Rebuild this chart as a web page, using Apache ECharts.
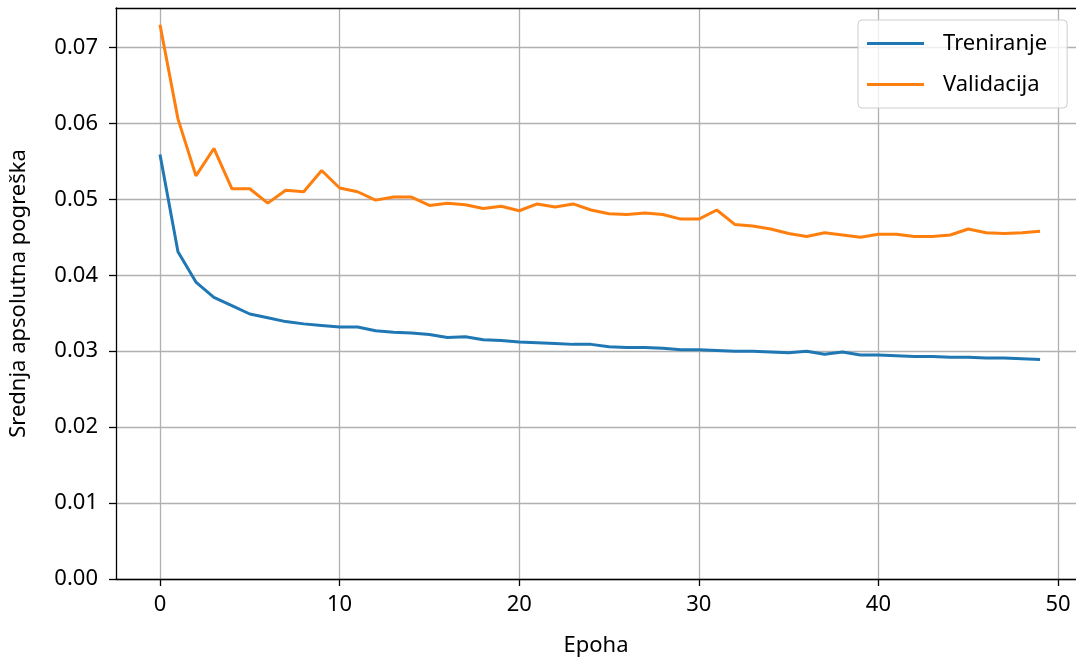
<!DOCTYPE html>
<html><head><meta charset="utf-8">
<script src="https://cdn.jsdelivr.net/npm/echarts@6/dist/echarts.min.js"></script>
<style>html,body{margin:0;padding:0;background:#fff}#c{width:1076px;height:662px}</style>
</head><body><div id="c"></div>
<script>
const epochs = Array.from({length: 50}, (_, i) => i);
const training = [0.0559,0.0431,0.0391,0.0371,0.0360,0.0349,0.0344,0.0339,0.0336,0.0334,
  0.0332,0.0332,0.0327,0.0325,0.0324,0.0322,0.0318,0.0319,0.0315,0.0314,
  0.0312,0.0311,0.0310,0.0309,0.0309,0.0306,0.0305,0.0305,0.0304,0.0302,
  0.0302,0.0301,0.0300,0.0300,0.0299,0.0298,0.0300,0.0296,0.0299,0.0295,
  0.0295,0.0294,0.0293,0.0293,0.0292,0.0292,0.0291,0.0291,0.0290,0.0289];
const validation = [0.0730,0.0606,0.0531,0.0567,0.0514,0.0514,0.0495,0.0512,0.0510,0.0538,
  0.0515,0.0510,0.0499,0.0503,0.0503,0.0492,0.0495,0.0493,0.0488,0.0491,
  0.0485,0.0494,0.0490,0.0494,0.0486,0.0481,0.0480,0.0482,0.0480,0.0474,
  0.0474,0.0486,0.0467,0.0465,0.0461,0.0455,0.0451,0.0456,0.0453,0.0450,
  0.0454,0.0454,0.0451,0.0451,0.0453,0.0461,0.0456,0.0455,0.0456,0.0458];
const xTicks = [0, 10, 20, 30, 40, 50];
const yTicks = [0, 0.01, 0.02, 0.03, 0.04, 0.05, 0.06, 0.07];
const seriesNames = ['Treniranje', 'Validacija'];
const colors = ['#1f77b4', '#ff7f0e'];
const FONT = 'Noto Sans';

const chart = echarts.init(document.getElementById('c'), null, {renderer: 'canvas'});
const X_MIN = -2.45, X_MAX = 51.0;
chart.setOption({
  animation: false,
  backgroundColor: '#fff',
  textStyle: {fontFamily: FONT},
  grid: {left: 116, right: 0, top: 8, bottom: 82, show: false},
  legend: {
    data: seriesNames,
    orient: 'vertical',
    left: 858, top: 20,
    padding: [10, 20, 10, 9],
    itemWidth: 57, itemHeight: 3,
    itemGap: 14,
    icon: 'rect',
    backgroundColor: 'rgba(255,255,255,0.8)',
    borderColor: '#cccccc', borderWidth: 1, borderRadius: 4,
    textStyle: {fontFamily: FONT, fontSize: 22, color: '#000', padding: [0, 0, 0, 14], lineHeight: 27}
  },
  xAxis: [{
    type: 'value', min: X_MIN, max: X_MAX,
    name: 'Epoha', nameLocation: 'middle', nameGap: 56,
    nameTextStyle: {fontFamily: FONT, fontSize: 22, color: '#000'},
    axisLine: {show: true, onZero: false, lineStyle: {color: '#000', width: 1.3}},
    axisTick: {show: true, length: 7, customValues: xTicks, lineStyle: {color: '#000', width: 1.3}},
    axisLabel: {customValues: xTicks, fontFamily: FONT, fontSize: 22, color: '#000', margin: 15},
    splitLine: {show: true, lineStyle: {color: '#b0b0b0', width: 1.3}}
  }, {
    type: 'value', min: X_MIN, max: X_MAX, position: 'top',
    axisLine: {show: true, onZero: false, lineStyle: {color: '#000', width: 1.3}},
    axisTick: {show: false}, axisLabel: {show: false}, splitLine: {show: false}
  }],
  yAxis: {
    type: 'value', min: 0, max: 0.0752,
    name: 'Srednja apsolutna pogreška', nameLocation: 'middle', nameGap: 86,
    nameTextStyle: {fontFamily: FONT, fontSize: 22, color: '#000'},
    axisLine: {show: true, onZero: false, lineStyle: {color: '#000', width: 1.3}},
    axisTick: {show: true, length: 7, customValues: yTicks, lineStyle: {color: '#000', width: 1.3}},
    axisLabel: {customValues: yTicks, fontFamily: FONT, fontSize: 22, color: '#000', margin: 18,
      formatter: v => v.toFixed(2)},
    splitLine: {show: true, lineStyle: {color: '#b0b0b0', width: 1.3}}
  },
  series: seriesNames.map((n, k) => ({
    name: n, type: 'line', showSymbol: false, symbol: 'none',
    data: epochs.map((e, i) => [e, (k === 0 ? training : validation)[i]]),
    lineStyle: {color: colors[k], width: 3}, itemStyle: {color: colors[k]}
  }))
});
</script></body></html>
